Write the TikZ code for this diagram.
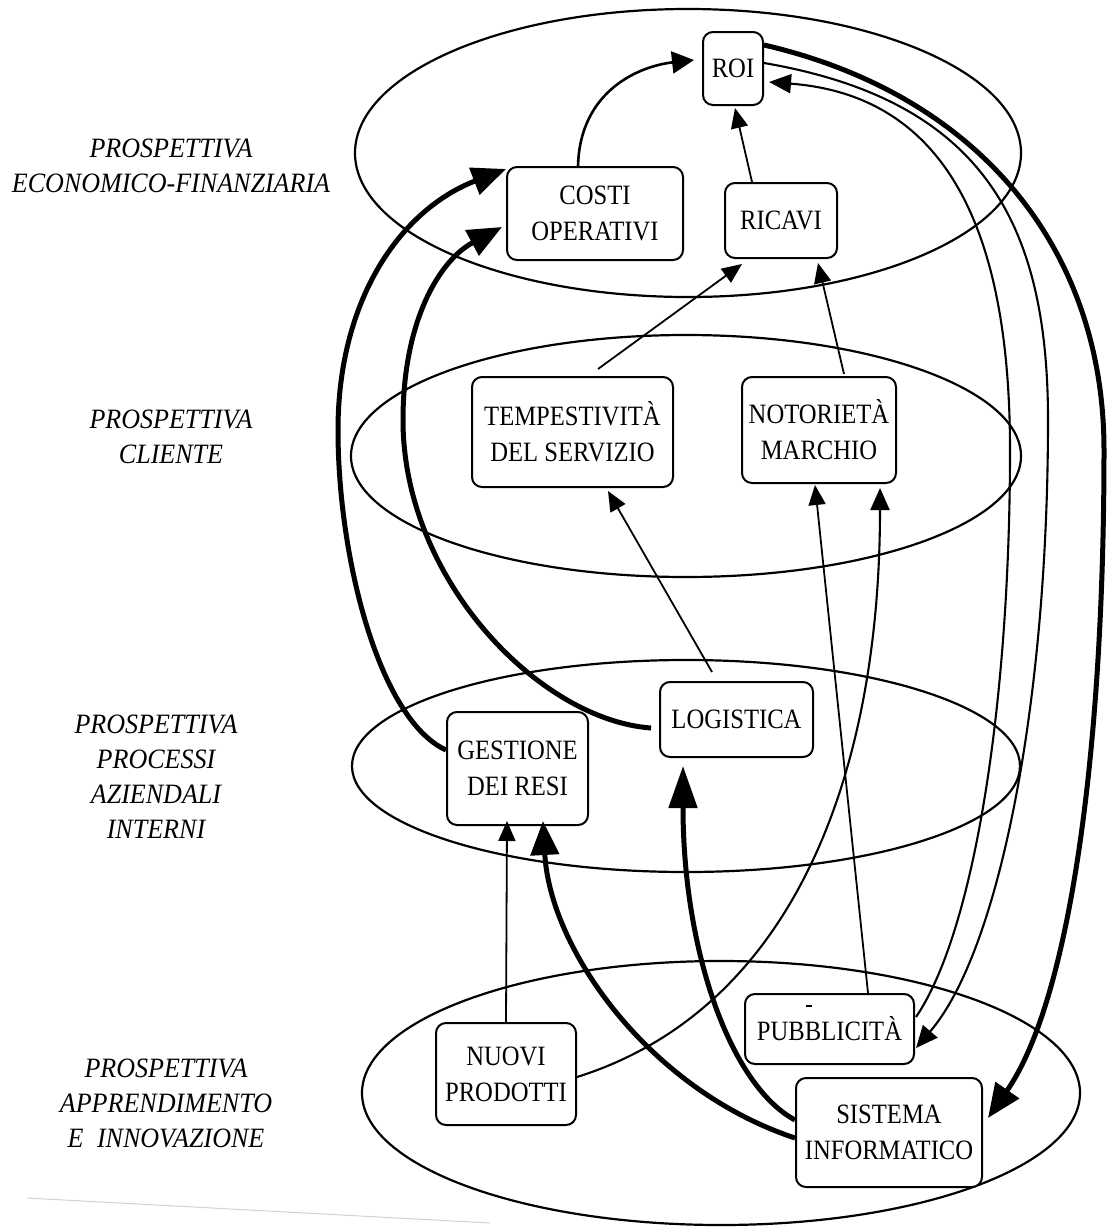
\documentclass[tikz,border=0pt]{standalone}
\usepackage{fontspec}
\setmainfont{Liberation Serif}
\newfontfamily\boxfont[FakeStretch=0.88]{Liberation Serif}
\newfontfamily\layerfont[FakeStretch=0.93]{Liberation Serif}
\usetikzlibrary{arrows.meta}

\tikzset{
  box/.style={draw, line width=2pt, rounded corners=10pt, fill=white, inner sep=0pt,
              align=center, font=\boxfont\fontsize{28}{36}\selectfont},
  layer/.style={line width=2.2pt},
  lbl/.style={align=center, inner sep=0pt, font=\layerfont\fontsize{28}{35}\selectfont\itshape},
  thinlink/.style={line width=1.8pt, -{Triangle[length=20pt,width=17pt]}},
  midlink/.style={line width=2.1pt, -{Triangle[length=22pt,width=19pt]}},
  arclink/.style={line width=2.6pt, -{Triangle[length=22pt,width=22pt]}},
  heavylink/.style={line width=5pt, -{Triangle[length=34pt,width=28pt]}},
  longtip/.style={-{Triangle[length=42pt,width=28pt]}},
}

\begin{document}
\begin{tikzpicture}[x=1pt, y=-1pt]
\useasboundingbox (0,0) rectangle (1109,1227);

% the four perspective layers
\draw[layer] (688,153) ellipse [x radius=333pt, y radius=144pt];
\draw[layer] (686,456) ellipse [x radius=335pt, y radius=121pt];
\draw[layer] (686,766) ellipse [x radius=334pt, y radius=106pt];
\draw[layer] (721,1093) ellipse [x radius=359pt, y radius=132pt];

% layer titles
\node[lbl] (l1) at (171,166) {PROSPETTIVA\\ECONOMICO-FINANZIARIA};
\node[lbl] (l2) at (171,437) {PROSPETTIVA\\CLIENTE};
\node[lbl] (l3) at (156,777) {PROSPETTIVA\\PROCESSI\\AZIENDALI\\INTERNI};
\node[lbl] (l4) at (166,1103) {PROSPETTIVA\\APPRENDIMENTO\\E\hspace{7pt} INNOVAZIONE};

% measures
\node[box, minimum width=60pt,  minimum height=73pt]  (roi)      at (733,68.5)   {ROI};
\node[box, minimum width=176pt, minimum height=93pt]  (costi)    at (595,213.5)  {COSTI\\OPERATIVI};
\node[box, minimum width=112pt, minimum height=75pt]  (ricavi)   at (781,220.5)  {RICAVI};
\node[box, minimum width=201pt, minimum height=110pt] (tempest)  at (572.5,432)  {TEMPESTIVITÀ\\DEL SERVIZIO};
\node[box, minimum width=154pt, minimum height=106pt] (notor)    at (819,430)    {NOTORIETÀ\\MARCHIO};
\node[box, minimum width=141pt, minimum height=113pt] (gestione) at (517.5,768.5) {GESTIONE\\DEI RESI};
\node[box, minimum width=153pt, minimum height=75pt]  (logist)   at (736.5,719.5) {LOGISTICA};
\node[box, minimum width=140pt, minimum height=102pt] (nuovi)    at (506,1074)   {NUOVI\\PRODOTTI};
\node[box, minimum width=169pt, minimum height=70pt]  (pubb)     at (829.5,1029) {PUBBLICITÀ};
\node[box, minimum width=186pt, minimum height=109pt] (sistema)  at (889,1132.5) {SISTEMA\\INFORMATICO};

% small mark above the advertising label
\draw[line width=1.5pt] (806,1006) -- (812,1006);

% economic-financial links
\draw[arclink] ([xshift=-17pt]costi.north) .. controls (580,90) and (640,66) .. ([xshift=-8pt,yshift=8.5pt]roi.west);
\draw[thinlink] ([xshift=-29pt]ricavi.north) -- ([xshift=2pt,yshift=-2pt]roi.south);

% customer links
\draw[thinlink] ([xshift=25.5pt,yshift=7pt]tempest.north) -- ([xshift=-39pt,yshift=-5pt]ricavi.south);
\draw[thinlink] ([xshift=25pt,yshift=2pt]notor.north) -- ([xshift=37pt,yshift=-4pt]ricavi.south);

% internal process links
\draw[thinlink] ([xshift=-24.5pt,yshift=9pt]logist.north) -- ([xshift=35.5pt,yshift=-3pt]tempest.south);
\draw[heavylink] ([yshift=18.5pt]gestione.west)
  .. controls (380,720) and (338,560) .. (338,430)
  .. controls (338,300) and (400,210) .. ([yshift=-3pt]costi.north west);
\draw[heavylink] ([xshift=-8pt,yshift=-8.5pt]logist.west)
  .. controls (540,720) and (403,580) .. (403,420)
  .. controls (403,320) and (440,260) .. ([xshift=-4pt,yshift=-13.5pt]costi.west);

% learning and growth links
\draw[thinlink] ([xshift=38.5pt]pubb.north) -- ([xshift=-4pt,yshift=-1pt]notor.south);
\draw[midlink] ([yshift=-3pt]nuovi.east) .. controls (790,1010) and (880,780) .. ([xshift=61pt,yshift=-4pt]notor.south);
\draw[thinlink] (nuovi.north) -- ([xshift=-10.5pt,yshift=5pt]gestione.south);
\draw[heavylink] ([yshift=-5.5pt]sistema.west) .. controls (650,1090) and (550,950) .. ([xshift=25.5pt,yshift=5pt]gestione.south);
\draw[heavylink, longtip] ([yshift=12.5pt]sistema.west) .. controls (730,1085) and (683,950) .. ([xshift=-53.5pt,yshift=-8pt]logist.south);

% feedback loops from the return on investment
\draw[heavylink] ([yshift=23.5pt]roi.east)
  .. controls (980,95) and (1104,250) .. (1104,450)
  .. controls (1104,750) and (1070,1000) .. ([xshift=5pt,yshift=14.5pt]sistema.east);
\draw[midlink] ([yshift=5.5pt]roi.east)
  .. controls (980,100) and (1048,220) .. (1048,420)
  .. controls (1048,700) and (1000,950) .. ([xshift=1pt,yshift=-19pt]pubb.east);
\draw[midlink] ([xshift=1pt,yshift=12pt]pubb.east)
  .. controls (975,930) and (1010,700) .. (1010,450)
  .. controls (1010,220) and (940,95) .. ([xshift=5pt,yshift=-13.5pt]roi.east);

% faint stroke along the lower edge
\draw[gray!35, line width=1pt] (27,1198) -- (490,1223);
\end{tikzpicture}
\end{document}
